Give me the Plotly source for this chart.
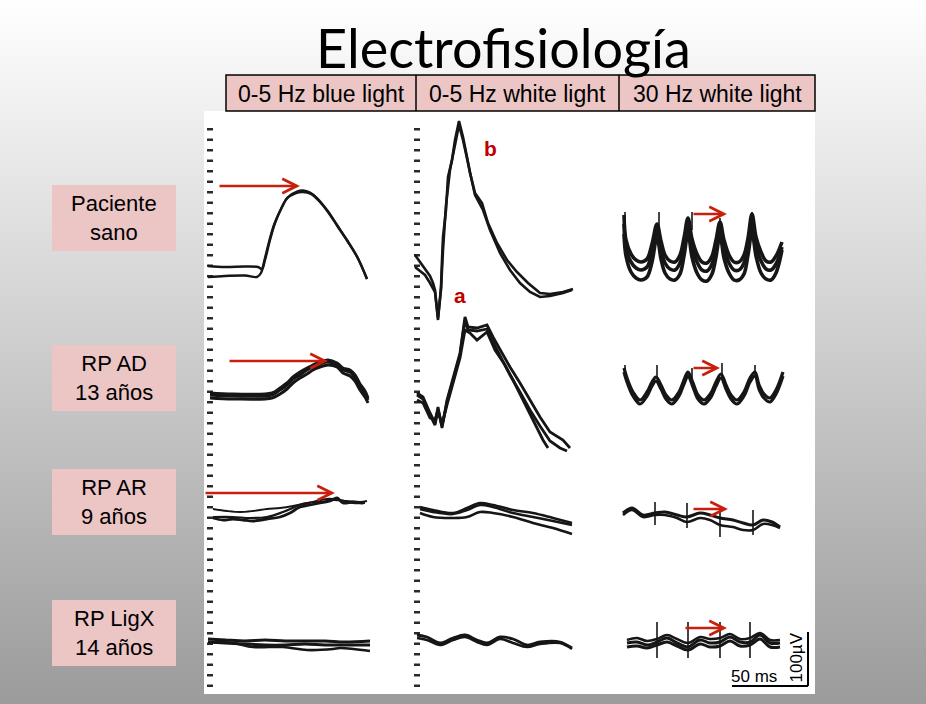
import plotly.graph_objects as go

W, H = 926, 704

# ---------------- data (time in ms, amplitude in microvolts) ----------------
col_titles = ["0-5 Hz blue light", "0-5 Hz white light", "30 Hz white light"]
row_labels = ["Paciente<br>sano", "RP AD<br>13 años", "RP AR<br>9 años", "RP LigX<br>14 años"]

# row 1 (healthy) - blue light rod response
r1c1_t_a = [-2, 15, 35, 48, 52, 55, 60, 65, 72, 78, 87, 93, 100, 107, 117, 127, 137, 147, 157]
r1c1_v_a = [8, 6, 7, 6, 2, 20, 60, 94, 126, 146, 157, 159, 155, 144, 120, 90, 60, 27, -18]
r1c1_t_b = [-2, 15, 35, 47, 51, 54, 59, 64, 71, 77, 86, 93, 101, 108, 118, 128, 138, 148, 157]
r1c1_v_b = [-14, -12, -11, -14, -6, 16, 56, 90, 122, 143, 154, 156, 152, 140, 116, 86, 56, 23, -18]
# row 1 - white light mixed response
r1c2_t_a = [-2, 3, 9, 13, 16, 18, 21, 24, 25, 26, 29, 31, 35, 38, 42, 46, 50, 53, 58, 65, 71, 80, 90, 100, 111, 123, 133, 146, 156]
r1c2_v_a = [30, 16, 0, -12, -26, -40, -100, -34, 20, 66, 120, 186, 220, 260, 298, 266, 226, 194, 154, 134, 94, 54, 20, -4, -26, -46, -48, -44, -38]
r1c2_t_b = [-2, 8, 13, 18, 21, 24, 26, 29, 33, 38, 42, 46, 51, 58, 66, 73, 83, 93, 103, 113, 123, 133, 146, 155]
r1c2_v_b = [6, -10, -26, -44, -96, -40, 40, 130, 200, 254, 290, 260, 216, 150, 120, 80, 34, 0, -26, -44, -54, -52, -46, -40]
# row 1 - 30 Hz flicker
r1c3_t_a = [2, 4, 9, 14, 19, 25, 30, 35, 39, 43, 48, 53, 58, 62, 66, 70, 75, 80, 85, 90, 94, 98, 102, 107, 112, 117, 122, 126, 130, 134, 139, 144, 149, 154, 160]
r1c3_v_a = [110, 60, 32, 20, 16, 22, 52, 92, 58, 30, 18, 16, 30, 64, 104, 62, 32, 16, 14, 28, 60, 96, 60, 30, 16, 16, 30, 64, 112, 66, 36, 18, 16, 28, 56]
r1c3_v_b = [92, 44, 16, 4, 0, 6, 36, 78, 42, 14, 2, 0, 14, 48, 86, 46, 16, 0, -2, 12, 44, 80, 44, 14, 0, 0, 14, 48, 92, 50, 18, 2, 0, 12, 46]
r1c3_v_c = [72, 28, -4, -16, -20, -14, 16, 66, 22, -6, -18, -20, -8, 28, 74, 26, -6, -20, -22, -8, 26, 70, 24, -6, -20, -20, -8, 30, 76, 28, -6, -18, -20, -6, 40]
r1c3_spk_t = [3, 37, 70, 98, 130]
r1c3_spk_top = [116, 116, 116, 104, 116]
r1c3_spk_bot = [70, 80, 80, 80, 80]

# row 2 (RP AD)
r2c1_t = [0, 23, 62, 70, 77, 83, 90, 97, 103, 110, 118, 127, 133, 140, 145, 150, 155, 158]
r2c1_v_a = [0, -2, 0, 10, 20, 32, 40, 50, 56, 62, 66, 60, 50, 46, 34, 16, 4, -10]
r2c1_v_b = [-6, -8, -6, 2, 12, 24, 34, 42, 50, 56, 60, 56, 44, 38, 28, 10, -4, -16]
r2c1_v_c = [4, 2, 4, 14, 24, 36, 46, 54, 60, 66, 70, 64, 54, 50, 40, 22, 8, -6]
r2c2_t_a = [0, 6, 13, 18, 21, 25, 30, 36, 43, 48, 51, 60, 70, 76, 85, 93, 103, 113, 123, 133, 146, 153]
r2c2_v_a = [4, -4, -36, -56, -24, -66, -10, 36, 84, 156, 136, 134, 140, 116, 84, 56, 24, -10, -44, -74, -90, -106]
r2c2_t_b = [0, 6, 13, 18, 21, 25, 30, 36, 43, 48, 53, 60, 70, 78, 88, 96, 106, 116, 126, 131]
r2c2_v_b = [-10, -16, -46, -50, -30, -60, -20, 26, 74, 130, 124, 110, 126, 90, 60, 30, -10, -50, -90, -106]
r2c2_t_c = [0, 6, 13, 18, 21, 25, 30, 36, 43, 48, 51, 60, 70, 76, 85, 93, 103, 113, 123, 133, 143, 150]
r2c2_v_c = [0, -8, -40, -60, -30, -62, -14, 32, 80, 150, 130, 128, 132, 106, 70, 40, 6, -30, -62, -92, -106, -112]
r2c3_t = [2, 5, 11, 18, 25, 30, 34, 39, 44, 50, 57, 62, 66, 71, 76, 82, 89, 94, 99, 104, 109, 115, 122, 128, 133, 137, 142, 148, 154, 161]
r2c3_v_a = [54, 34, 6, -10, 6, 26, 36, 20, 0, -10, 6, 30, 46, 24, 0, -10, 4, 26, 42, 20, 0, -10, 6, 34, 46, 20, 2, -6, 10, 46]
r2c3_v_b = [46, 26, -2, -18, -2, 18, 28, 12, -8, -18, -2, 22, 38, 16, -8, -18, -4, 18, 34, 12, -8, -18, -2, 26, 38, 12, -6, -14, 2, 38]
r2c3_spk_t = [3, 35, 70, 100, 133]
r2c3_spk_top = [60, 60, 54, 64, 60]
r2c3_spk_bot = [34, 34, 34, 34, 34]

# row 3 (RP AR)
r3c1_t_a = [3, 13, 23, 33, 43, 57, 70, 80, 90, 100, 110, 120, 127, 133, 143, 153]
r3c1_v_a = [-10, -14, -12, -14, -16, -12, -8, 0, 12, 16, 20, 24, 30, 20, 22, 20]
r3c1_t_b = [3, 17, 30, 43, 57, 70, 83, 97, 110, 123, 137, 150, 157]
r3c1_v_b = [8, 4, 2, 4, 8, 10, 14, 20, 22, 26, 24, 22, 24]
r3c1_t_c = [3, 23, 40, 57, 73, 90, 103, 117, 130, 143, 155]
r3c1_v_c = [-8, -8, -10, -8, 2, 16, 22, 28, 26, 20, 20]
r3c2_t = [3, 16, 36, 50, 63, 76, 96, 116, 136, 155]
r3c2_v_a = [12, 6, 0, 10, 20, 16, 6, 0, -10, -20]
r3c2_v_b = [0, -8, -10, -8, 2, 0, -8, -20, -30, -42]
r3c2_v_c = [8, 2, -2, 6, 16, 12, 0, -8, -16, -24]
r3c3_t = [1, 10, 21, 33, 43, 55, 65, 78, 88, 98, 111, 121, 131, 141, 150, 158]
r3c3_v_a = [0, 10, -4, 0, 2, -4, -8, 0, -4, -10, -14, -20, -24, -14, -18, -28]
r3c3_v_b = [-4, 6, -8, -4, -4, -10, -18, -10, -14, -24, -28, -34, -34, -22, -24, -30]
r3c3_spk_t = [33, 65, 98, 131]
r3c3_spk_top = [22, 20, 6, 6]
r3c3_spk_bot = [-24, -30, -48, -44]

# row 4 (RP LigX)
r4c1_t_a = [-2, 15, 35, 55, 75, 95, 115, 135, 160]
r4c1_v_a = [6, 4, 2, 4, 2, 2, 2, 0, 2]
r4c1_v_b = [0, -2, -4, -6, -6, -4, -6, -6, -6]
r4c1_t_c = [-2, 23, 43, 73, 97, 123, 130, 160]
r4c1_v_c = [0, -2, -10, -10, -16, -14, -12, -18]
r4c2_t = [0, 10, 23, 36, 48, 60, 70, 83, 96, 110, 123, 143, 155]
r4c2_v_a = [14, 10, -2, 8, 14, 4, -2, 10, 6, -6, 0, 0, -12]
r4c2_v_b = [8, 4, -6, 4, 10, 0, -6, 6, -2, -10, -4, -2, -14]
r4c3_t = [5, 15, 25, 35, 45, 55, 66, 78, 88, 98, 108, 118, 128, 138, 148, 158]
r4c3_v_a = [-2, 0, -6, 0, 8, -2, -10, 4, -2, 0, 10, 0, 0, 14, -2, -2]
r4c3_v_b = [-10, -8, -12, -6, 0, -8, -16, -4, -10, -8, 2, -8, -6, 6, -10, -10]
r4c3_v_c = [4, 8, 2, 6, 14, 6, -2, 10, 6, 8, 16, 6, 8, 18, 4, 4]
r4c3_spk_t = [35, 66, 98, 128]
r4c3_spk_top = [40, 40, 40, 40]
r4c3_spk_bot = [-32, -32, -32, -32]

# latency arrows: (col, row, start ms, end ms, level µV)
arrow_col = [1, 1, 1, 3, 3, 3, 3]
arrow_row = [1, 2, 3, 1, 2, 3, 4]
arrow_t0 = [8, 18, -6, 70, 70, 70, 62]
arrow_t1 = [90, 118, 125, 105, 98, 106, 105]
arrow_v = [168, 68, 40, 112, 54, 8, 28]

# wave labels on the white-light healthy response
wave_names = ["b", "a"]
wave_t = [73, 43]
wave_v = [244, -50]

scale_ms = 50
scale_uv = 100

# ---------------- layout geometry (pixels) ----------------
PL, PR, PT, PB = 204, 815, 111, 694
col_zero = [210, 417, 622]
row_zero = [270, 395, 513, 642]
MS_PX = 1.0
UV_PX = 2.0


def fx(p):
    return p / W


def fy(p):
    return 1 - p / H


fig = go.Figure()
INK = "#161616"


def ax_names(c, r):
    xa = "x" if c == 1 else f"x{c}"
    ya = "y" if r == 1 else f"y{r}"
    return xa, ya


def add(c, r, t, v, w=2.6, shape="linear"):
    xa, ya = ax_names(c, r)
    fig.add_trace(go.Scatter(x=t, y=v, xaxis=xa, yaxis=ya, mode="lines",
                             line=dict(color=INK, width=w, shape=shape),
                             hoverinfo="skip", showlegend=False))


def add_spikes(c, r, ts, tops, bots, w=1.6):
    xs, ys = [], []
    for t, a, b in zip(ts, tops, bots):
        xs += [t, t, None]
        ys += [a, b, None]
    xa, ya = ax_names(c, r)
    fig.add_trace(go.Scatter(x=xs, y=ys, xaxis=xa, yaxis=ya, mode="lines",
                             line=dict(color=INK, width=w),
                             hoverinfo="skip", showlegend=False))


add(1, 1, r1c1_t_a, r1c1_v_a, 2.4, "spline")
add(1, 1, r1c1_t_b, r1c1_v_b, 2.4, "spline")
add(2, 1, r1c2_t_a, r1c2_v_a, 2.6)
add(2, 1, r1c2_t_b, r1c2_v_b, 2.6)
add(3, 1, r1c3_t_a, r1c3_v_a, 3.6, "spline")
add(3, 1, r1c3_t_a, r1c3_v_b, 3.6, "spline")
add(3, 1, r1c3_t_a, r1c3_v_c, 3.6, "spline")
add_spikes(3, 1, r1c3_spk_t, r1c3_spk_top, r1c3_spk_bot)

add(1, 2, r2c1_t, r2c1_v_a, 3.0, "spline")
add(1, 2, r2c1_t, r2c1_v_b, 3.0, "spline")
add(1, 2, r2c1_t, r2c1_v_c, 3.0, "spline")
add(2, 2, r2c2_t_a, r2c2_v_a, 2.8)
add(2, 2, r2c2_t_b, r2c2_v_b, 2.8)
add(2, 2, r2c2_t_c, r2c2_v_c, 2.8)
add(3, 2, r2c3_t, r2c3_v_a, 3.2, "spline")
add(3, 2, r2c3_t, r2c3_v_b, 3.2, "spline")
add_spikes(3, 2, r2c3_spk_t, r2c3_spk_top, r2c3_spk_bot)

add(1, 3, r3c1_t_a, r3c1_v_a, 2.8, "spline")
add(1, 3, r3c1_t_b, r3c1_v_b, 1.8, "spline")
add(1, 3, r3c1_t_c, r3c1_v_c, 2.2, "spline")
add(2, 3, r3c2_t, r3c2_v_a, 2.6, "spline")
add(2, 3, r3c2_t, r3c2_v_b, 2.6, "spline")
add(2, 3, r3c2_t, r3c2_v_c, 2.6, "spline")
add(3, 3, r3c3_t, r3c3_v_a, 3.0, "spline")
add(3, 3, r3c3_t, r3c3_v_b, 2.6, "spline")
add_spikes(3, 3, r3c3_spk_t, r3c3_spk_top, r3c3_spk_bot)

add(1, 4, r4c1_t_a, r4c1_v_a, 3.0, "spline")
add(1, 4, r4c1_t_a, r4c1_v_b, 3.0, "spline")
add(1, 4, r4c1_t_c, r4c1_v_c, 2.6, "spline")
add(2, 4, r4c2_t, r4c2_v_a, 2.8, "spline")
add(2, 4, r4c2_t, r4c2_v_b, 2.6, "spline")
add(3, 4, r4c3_t, r4c3_v_a, 3.0, "spline")
add(3, 4, r4c3_t, r4c3_v_b, 3.0, "spline")
add(3, 4, r4c3_t, r4c3_v_c, 2.6, "spline")
add_spikes(3, 4, r4c3_spk_t, r4c3_spk_top, r4c3_spk_bot)

# ---------------- axes ----------------
axes = {}
for i, z in enumerate(col_zero):
    name = "xaxis" if i == 0 else f"xaxis{i + 1}"
    axes[name] = dict(domain=[fx(PL), fx(PR)], range=[(PL - z) * MS_PX, (PR - z) * MS_PX],
                      visible=False, fixedrange=True, anchor="y")
for j, z in enumerate(row_zero):
    name = "yaxis" if j == 0 else f"yaxis{j + 1}"
    axes[name] = dict(domain=[fy(PB), fy(PT)], range=[(z - PB) * UV_PX, (z - PT) * UV_PX],
                      visible=False, fixedrange=True, anchor="x")

# ---------------- shapes ----------------
shapes = []
# slide gradient background
NB = 88
for k in range(NB):
    y0 = k * H / NB
    y1 = (k + 1) * H / NB
    frac = (y0 + y1) / 2 / H
    g = int(round(255 - 100 * frac))
    shapes.append(dict(type="rect", xref="paper", yref="paper", x0=0, x1=1,
                       y0=fy(y1), y1=fy(y0) + 0.001, fillcolor=f"rgb({g},{g},{g})",
                       line=dict(width=0), layer="below"))
# white figure panel
shapes.append(dict(type="rect", xref="paper", yref="paper", x0=fx(PL), x1=fx(PR),
                   y0=fy(PB), y1=fy(PT), fillcolor="white", line=dict(width=0), layer="below"))
# dotted time-zero markers
for xp in (210, 417):
    shapes.append(dict(type="line", xref="paper", yref="paper", x0=fx(xp), x1=fx(xp),
                       y0=fy(128), y1=fy(691), line=dict(color="#2a2a2a", width=6, dash="2.5px,8px"),
                       layer="below"))
# header boxes
PINK = "#ecc5c5"
shapes.append(dict(type="rect", xref="paper", yref="paper", x0=fx(226), x1=fx(815),
                   y0=fy(111), y1=fy(75), fillcolor=PINK, line=dict(color="black", width=1.5)))
for xp in (416, 619):
    shapes.append(dict(type="line", xref="paper", yref="paper", x0=fx(xp), x1=fx(xp),
                       y0=fy(111), y1=fy(75), line=dict(color="black", width=1.5)))
# row label boxes
box_tops = [185, 345, 469, 600]
for bt in box_tops:
    shapes.append(dict(type="rect", xref="paper", yref="paper", x0=fx(52), x1=fx(176),
                       y0=fy(bt + 66), y1=fy(bt), fillcolor=PINK, line=dict(width=0)))
# scale bar (col 3, row 4 axes)
sb_t = (808 - col_zero[2]) * MS_PX
sb_v = (row_zero[3] - 686) * UV_PX
shapes.append(dict(type="line", xref="x3", yref="y4", x0=sb_t, x1=sb_t, y0=sb_v, y1=sb_v + scale_uv + 8,
                   line=dict(color="black", width=2)))
shapes.append(dict(type="line", xref="x3", yref="y4", x0=sb_t - scale_ms - 26, x1=sb_t, y0=sb_v, y1=sb_v,
                   line=dict(color="black", width=2)))

# ---------------- annotations ----------------
ann = []
ann.append(dict(text="Electrofisiología", x=fx(503), y=fy(47), xref="paper", yref="paper",
                xanchor="center", yanchor="middle",
                showarrow=False, font=dict(family="Lato", size=54, color="black")))
head_cx = [321, 517, 717]
for txt, cx in zip(col_titles, head_cx):
    ann.append(dict(text=txt, x=fx(cx), y=fy(94), xref="paper", yref="paper", showarrow=False,
                    xanchor="center", yanchor="middle",
                    font=dict(family="Liberation Sans", size=23, color="black")))
for txt, bt in zip(row_labels, box_tops):
    ann.append(dict(text=txt, x=fx(114), y=fy(bt + 33), xref="paper", yref="paper", showarrow=False,
                    xanchor="center", yanchor="middle",
                    font=dict(family="Liberation Sans", size=22, color="black")))
RED = "#c8200e"
for c, r, t0, t1, v in zip(arrow_col, arrow_row, arrow_t0, arrow_t1, arrow_v):
    xa, ya = ax_names(c, r)
    ann.append(dict(x=t1, y=v, ax=t0, ay=v, xref=xa, yref=ya, axref=xa, ayref=ya, text="",
                    showarrow=True, arrowhead=5, arrowsize=1.1, arrowwidth=2.6, arrowcolor=RED,
                    standoff=0, startstandoff=0))
for name, t, v in zip(wave_names, wave_t, wave_v):
    ann.append(dict(text=f"<b>{name}</b>", x=t, y=v, xref="x2", yref="y", showarrow=False,
                    xanchor="center", yanchor="middle",
                    font=dict(family="Liberation Sans", size=21, color="#c00000")))
ann.append(dict(text=f"{scale_ms} ms", x=sb_t - 54, y=sb_v - 3, xref="x3", yref="y4", showarrow=False,
                xanchor="center", yanchor="bottom", font=dict(family="Liberation Sans", size=17, color="black")))
ann.append(dict(text=f"{scale_uv}µV", x=sb_t - 1, y=sb_v + 56, xref="x3", yref="y4", showarrow=False,
                xanchor="right", yanchor="middle", textangle=-90,
                font=dict(family="Liberation Sans", size=17, color="black")))

fig.update_layout(width=W, height=H, margin=dict(l=0, r=0, t=0, b=0),
                  paper_bgcolor="white", plot_bgcolor="rgba(0,0,0,0)",
                  shapes=shapes, annotations=ann, showlegend=False, **axes)

fig.write_html("out.html", config={"displayModeBar": False})
